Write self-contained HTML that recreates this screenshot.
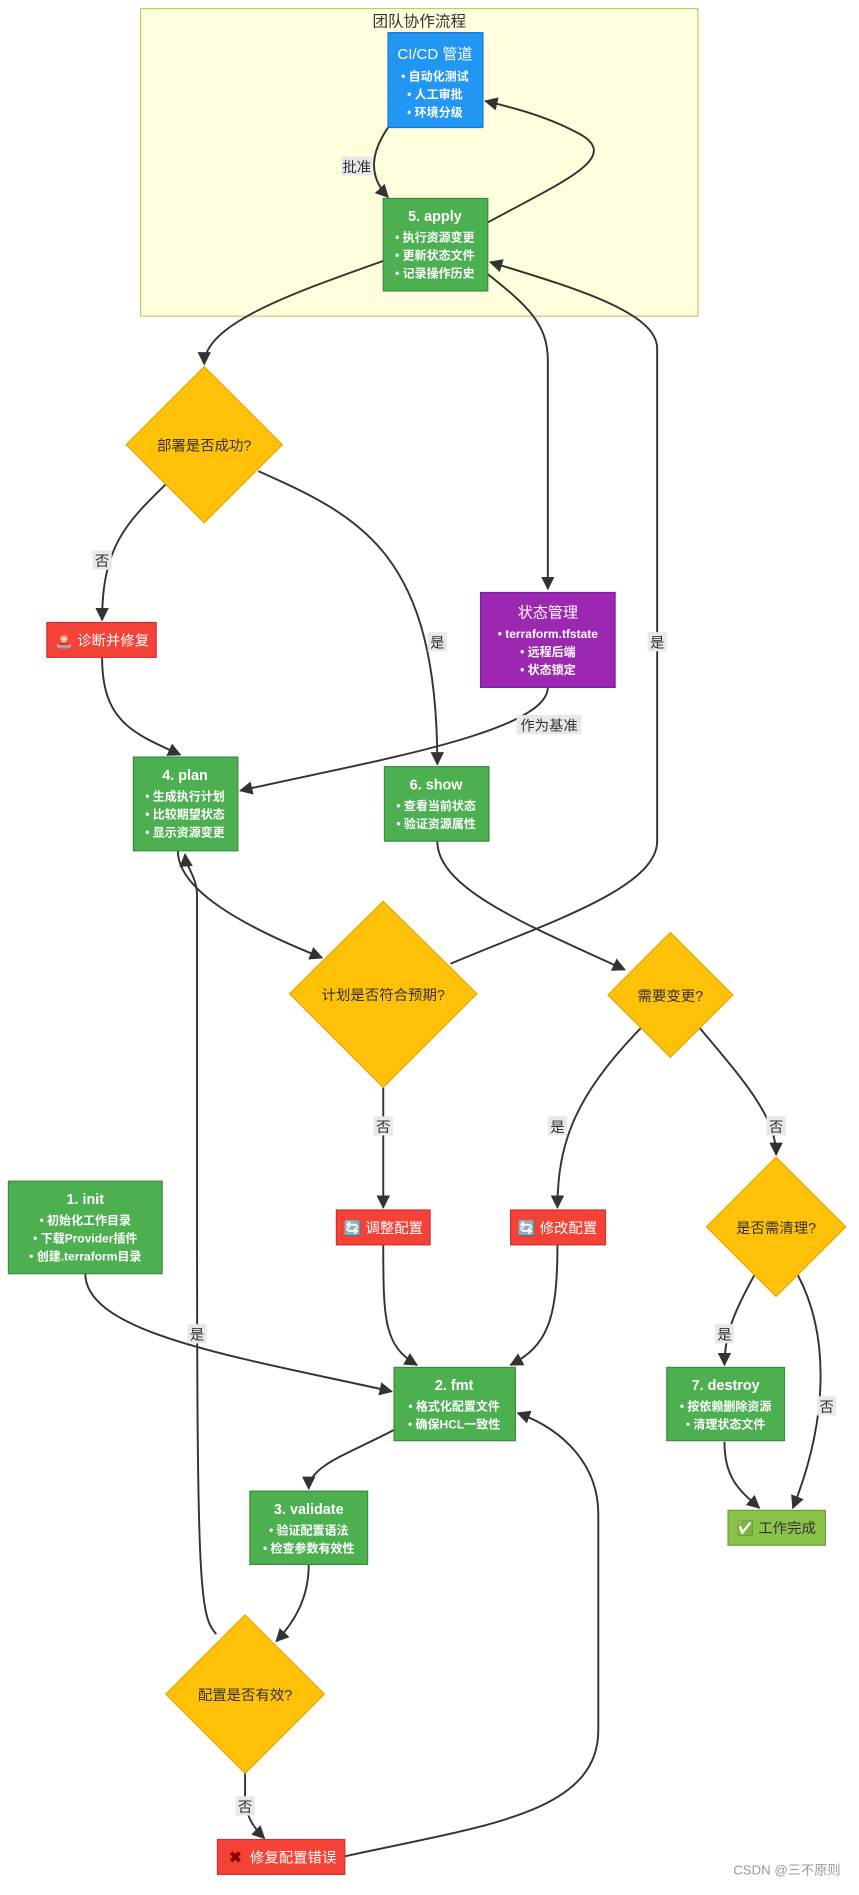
<!DOCTYPE html>
<html><head><meta charset="utf-8"><style>
html,body{margin:0;padding:0;background:#fff}
svg{display:block}
text{font-family:"Liberation Sans","Noto Sans CJK SC",sans-serif;text-anchor:middle}
.w{fill:#fff;font-size:10px;font-weight:bold}
.t{fill:#fff;font-size:12px;font-weight:bold}
.e{fill:none;stroke:#333;stroke-width:1.6}
.lb{fill:#e8e8e8}
.lt{font-size:12px;fill:#333}
</style></head><body>
<svg width="859" height="1895" viewBox="0 0 715 1577" xmlns="http://www.w3.org/2000/svg">
<defs><marker id="a" viewBox="0 0 10 10" refX="9" refY="5" markerWidth="7" markerHeight="7" orient="auto"><path d="M0,0L10,5L0,10z" fill="#333"/></marker></defs>
<rect x="117" y="7" width="464" height="256" fill="#ffffde" stroke="#c8c86a"/>
<text x="349" y="22" font-size="13" fill="#333">团队协作流程</text>

<g class="e" marker-end="url(#a)">
<path d="M323,106 C310,125 305,145 323,164"/>
<path d="M406,185 C470,150 520,130 480,110 C455,97 430,90 404,84"/>
<path d="M319,217 C240,245 170,270 170,303"/>
<path d="M406,228 C440,255 456,270 456,300 L456,490"/>
<path d="M375,802 C450,770 547,740 547,700 L547,290 C547,260 480,240 408,218"/>
<path d="M138,403 C105,435 85,455 85,516"/>
<path d="M215,392 C300,430 364,460 364,636"/>
<path d="M85,547 C85,600 110,610 150,628"/>
<path d="M456,572 C456,610 300,635 200,658"/>
<path d="M148,708 C148,740 200,770 268,797"/>
<path d="M364,700 C364,740 440,770 520,807"/>
<path d="M319,905 L319,1005"/>
<path d="M534,855 C480,910 464,950 464,1005"/>
<path d="M582,855 C620,900 646,930 646,961"/>
<path d="M628,1061 C612,1090 603,1110 603,1136"/>
<path d="M664,1061 C690,1110 690,1180 660,1255"/>
<path d="M603,1200 C603,1230 615,1240 632,1255"/>
<path d="M71,1060 C71,1110 200,1130 326,1158"/>
<path d="M319,1036 C319,1100 320,1120 347,1136"/>
<path d="M464,1036 C464,1100 455,1120 425,1136"/>
<path d="M328,1190 C290,1210 257,1220 257,1239"/>
<path d="M257,1302 C257,1330 245,1350 230,1366"/>
<path d="M180,1360 C166,1345 164,1320 164,1000 L164,745 C164,730 155,722 154,711"/>
<path d="M204,1476 L204,1495 C204,1510 210,1520 220,1530"/>
<path d="M287,1545 C400,1520 498,1510 498,1440 L498,1260 C498,1220 470,1190 431,1176"/>
</g>

<rect class="lb" x="284" y="130" width="26" height="16"/><text class="lt" x="297" y="143">批准</text>
<rect class="lb" x="77" y="458" width="16" height="16"/><text class="lt" x="85" y="471">否</text>
<rect class="lb" x="356" y="526" width="16" height="16"/><text class="lt" x="364" y="539">是</text>
<rect class="lb" x="539" y="526" width="16" height="16"/><text class="lt" x="547" y="539">是</text>
<rect class="lb" x="430" y="595" width="54" height="16"/><text class="lt" x="457" y="608">作为基准</text>
<rect class="lb" x="311" y="929" width="16" height="16"/><text class="lt" x="319" y="942">否</text>
<rect class="lb" x="456" y="929" width="16" height="16"/><text class="lt" x="464" y="942">是</text>
<rect class="lb" x="638" y="929" width="16" height="16"/><text class="lt" x="646" y="942">否</text>
<rect class="lb" x="595" y="1102" width="16" height="16"/><text class="lt" x="603" y="1115">是</text>
<rect class="lb" x="680" y="1162" width="16" height="16"/><text class="lt" x="688" y="1175">否</text>
<rect class="lb" x="156" y="1102" width="16" height="16"/><text class="lt" x="164" y="1115">是</text>
<rect class="lb" x="196" y="1495" width="16" height="16"/><text class="lt" x="204" y="1508">否</text>

<rect x="323" y="27" width="79" height="79" fill="#2196f3" stroke="#1976d2"/>
<text x="362" y="49" fill="#fff" font-size="12.5">CI/CD 管道</text>
<text x="362" y="67" class="w">• 自动化测试</text>
<text x="362" y="82" class="w">• 人工审批</text>
<text x="362" y="97" class="w">• 环境分级</text>

<rect x="319" y="165" width="87" height="77" fill="#4caf50" stroke="#388e3c"/>
<text x="362" y="184" class="t">5. apply</text>
<text x="362" y="201" class="w">• 执行资源变更</text>
<text x="362" y="216" class="w">• 更新状态文件</text>
<text x="362" y="231" class="w">• 记录操作历史</text>

<polygon points="170,305 235,370 170,435 105,370" fill="#ffc107" stroke="#e6a800"/>
<text x="170" y="375" font-size="12" fill="#333">部署是否成功?</text>

<rect x="39" y="518" width="91" height="29" fill="#f44336" stroke="#d32f2f"/>
<text x="85" y="537" font-size="12" fill="#fff">🚨 诊断并修复</text>

<rect x="400" y="493" width="112" height="79" fill="#9c27b0" stroke="#7b1fa2"/>
<text x="456" y="514" fill="#fff" font-size="12.5">状态管理</text>
<text x="456" y="531" class="w">• terraform.tfstate</text>
<text x="456" y="546" class="w">• 远程后端</text>
<text x="456" y="561" class="w">• 状态锁定</text>

<rect x="111" y="630" width="87" height="78" fill="#4caf50" stroke="#388e3c"/>
<text x="154" y="649" class="t">4. plan</text>
<text x="154" y="666" class="w">• 生成执行计划</text>
<text x="154" y="681" class="w">• 比较期望状态</text>
<text x="154" y="696" class="w">• 显示资源变更</text>

<rect x="320" y="638" width="87" height="62" fill="#4caf50" stroke="#388e3c"/>
<text x="363" y="657" class="t">6. show</text>
<text x="363" y="674" class="w">• 查看当前状态</text>
<text x="363" y="689" class="w">• 验证资源属性</text>

<polygon points="319,750 397,827 319,905 241,827" fill="#ffc107" stroke="#e6a800"/>
<text x="319" y="832" font-size="12" fill="#333">计划是否符合预期?</text>

<polygon points="558,776 610,828 558,880 506,828" fill="#ffc107" stroke="#e6a800"/>
<text x="558" y="833" font-size="12" fill="#333">需要变更?</text>

<rect x="280" y="1007" width="78" height="29" fill="#f44336" stroke="#d32f2f"/>
<text x="319" y="1026" font-size="12" fill="#fff">🔄 调整配置</text>
<rect x="425" y="1007" width="79" height="29" fill="#f44336" stroke="#d32f2f"/>
<text x="464" y="1026" font-size="12" fill="#fff">🔄 修改配置</text>

<polygon points="646,963 704,1021 646,1079 588,1021" fill="#ffc107" stroke="#e6a800"/>
<text x="646" y="1026" font-size="12" fill="#333">是否需清理?</text>

<rect x="7" y="983" width="128" height="77" fill="#4caf50" stroke="#388e3c"/>
<text x="71" y="1002" class="t">1. init</text>
<text x="71" y="1019" class="w">• 初始化工作目录</text>
<text x="71" y="1034" class="w">• 下载Provider插件</text>
<text x="71" y="1049" class="w">• 创建.terraform目录</text>

<rect x="328" y="1138" width="101" height="61" fill="#4caf50" stroke="#388e3c"/>
<text x="378" y="1157" class="t">2. fmt</text>
<text x="378" y="1174" class="w">• 格式化配置文件</text>
<text x="378" y="1189" class="w">• 确保HCL一致性</text>

<rect x="555" y="1138" width="98" height="61" fill="#4caf50" stroke="#388e3c"/>
<text x="604" y="1157" class="t">7. destroy</text>
<text x="604" y="1174" class="w">• 按依赖删除资源</text>
<text x="604" y="1189" class="w">• 清理状态文件</text>

<rect x="606" y="1257" width="81" height="29" fill="#8bc34a" stroke="#689f38"/>
<text x="646" y="1276" font-size="12" fill="#333">✅ 工作完成</text>

<rect x="208" y="1241" width="98" height="61" fill="#4caf50" stroke="#388e3c"/>
<text x="257" y="1260" class="t">3. validate</text>
<text x="257" y="1277" class="w">• 验证配置语法</text>
<text x="257" y="1292" class="w">• 检查参数有效性</text>

<polygon points="204,1344 270,1410 204,1476 138,1410" fill="#ffc107" stroke="#e6a800"/>
<text x="204" y="1415" font-size="12" fill="#333">配置是否有效?</text>

<rect x="181" y="1531" width="106" height="29" fill="#f44336" stroke="#d32f2f"/>
<rect x="189" y="1538" width="13" height="14" fill="#f44336"/>
<text x="196" y="1550" font-size="13" fill="#8b0000" font-weight="bold">✖</text>
<text x="244" y="1550" font-size="12" fill="#fff">修复配置错误</text>

<text x="655" y="1560" font-size="11" fill="#999">CSDN @三不原则</text>
</svg>
</body></html>
